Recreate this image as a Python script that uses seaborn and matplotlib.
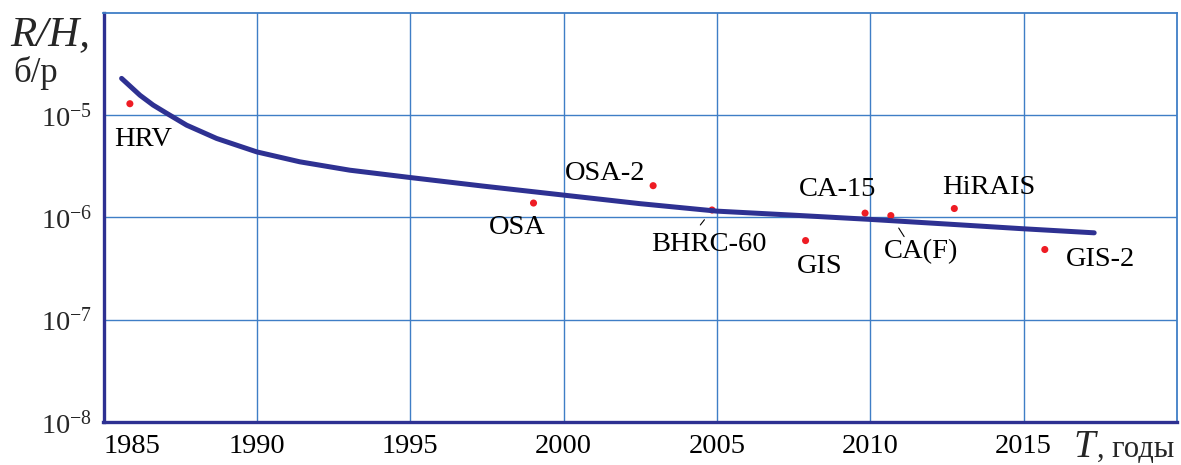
import numpy as np
import matplotlib
matplotlib.use('Agg')
import matplotlib.pyplot as plt
import seaborn as sns
from matplotlib.ticker import FixedLocator, LogLocator, NullFormatter, MultipleLocator

sns.set_theme(style='white')
plt.rcParams['font.family'] = ['Liberation Serif', 'DejaVu Serif']
plt.rcParams['mathtext.fontset'] = 'custom'
plt.rcParams['mathtext.rm'] = 'Liberation Serif'
plt.rcParams['mathtext.it'] = 'Liberation Serif:italic'

navy = '#2e3192'
gridc = '#3f7ec6'

# trend curve
curve_year = [1985.59, 1986.19, 1986.62, 1987.06, 1987.71, 1988.69, 1990.0, 1991.4, 1993.03,
              1995.0, 1997.38, 2000.0, 2002.5, 2005.0, 2007.5, 2010.0, 2012.5, 2015.0, 2017.3]
curve_rh = [2.28e-5, 1.56e-5, 1.25e-5, 1.04e-5, 7.96e-6, 5.90e-6, 4.36e-6, 3.49e-6, 2.89e-6,
            2.45e-6, 2.02e-6, 1.65e-6, 1.36e-6, 1.15e-6, 1.05e-6, 9.55e-7, 8.6e-7, 7.73e-7, 7.06e-7]

# individual machines
names = ['HRV', 'OSA', 'OSA-2', 'BHRC-60', 'GIS', 'CA-15', 'CA(F)', 'HiRAIS', 'GIS-2']
years = [1985.86, 1999.02, 2002.92, 2004.84, 2007.89, 2009.83, 2010.67, 2012.74, 2015.69]
rh = [1.29e-5, 1.38e-6, 2.04e-6, 1.18e-6, 5.93e-7, 1.10e-6, 1.04e-6, 1.22e-6, 4.85e-7]

# label offsets in pixels (baseline, centred)
offsets = {'HRV': (13, -42), 'OSA': (-16, -31), 'OSA-2': (-48, 6), 'BHRC-60': (-3, -41),
           'GIS': (14, -32), 'CA-15': (-28, 17), 'CA(F)': (30, -43), 'HiRAIS': (34, 15),
           'GIS-2': (56, -16)}

x_ticks = [1985, 1990, 1995, 2000, 2005, 2010, 2015]
y_ticks = [1e-8, 1e-7, 1e-6, 1e-5]
y_labels = [r'$10^{-8}$', r'$10^{-7}$', r'$10^{-6}$', r'$10^{-5}$']

fig = plt.figure(figsize=(11.81, 4.65), dpi=100)
ax = fig.add_axes([103.5 / 1181, 43 / 465, (1177 - 103.5) / 1181, (422 - 12.7) / 465])

sns.scatterplot(x=years, y=rh, ax=ax, color='#ee1c24', s=26, edgecolor='none', zorder=3)
sns.lineplot(x=curve_year, y=curve_rh, ax=ax, color=navy, lw=3.6, zorder=4)

ax.set_yscale('log')
ax.set_xlim(1985, 2020)
ax.set_ylim(1e-8, 1e-4)

ax.xaxis.set_major_locator(FixedLocator(x_ticks))
ax.xaxis.set_minor_locator(MultipleLocator(1))
ax.set_xticklabels([str(t) for t in x_ticks], fontsize=20.5)
ax.get_xticklabels()[0].set_ha('left')
ax.yaxis.set_major_locator(FixedLocator(y_ticks))
ax.yaxis.set_minor_locator(LogLocator(base=10, subs=np.arange(2, 10)))
ax.yaxis.set_minor_formatter(NullFormatter())
ax.set_yticklabels(y_labels, fontsize=20.5)

ax.grid(True, which='major', color=gridc, lw=1.0)
ax.tick_params(axis='x', which='major', length=0, pad=8.5, colors='black')
ax.tick_params(axis='x', which='minor', direction='in', length=3, width=1.2, color=navy)
ax.tick_params(axis='y', which='major', direction='out', length=5, width=1.0, color=gridc, pad=3)
ax.tick_params(axis='y', which='minor', direction='in', length=3, width=1.2, color=navy)

for s in ['left', 'bottom']:
    ax.spines[s].set_color(navy)
    ax.spines[s].set_linewidth(2.4)
for s in ['top', 'right']:
    ax.spines[s].set_color(gridc)
    ax.spines[s].set_linewidth(1.3)
ax.set_xlabel('')
ax.set_ylabel('')

for n, x, y in zip(names, years, rh):
    dx, dy = offsets[n]
    ax.annotate(n, (x, y), xytext=(dx, dy), textcoords='offset pixels',
                ha='center', va='baseline', fontsize=20.5, color='black', zorder=5)

# little leader strokes
leaders = {'BHRC-60': ((-11.7, -15), 8.9), 'CA(F)': ((13.3, -21), 10.6)}
for n, ((dx, dy), shr) in leaders.items():
    i = names.index(n)
    ax.annotate('', (years[i], rh[i]), xytext=(dx, dy), textcoords='offset pixels',
                arrowprops=dict(arrowstyle='-', color='black', lw=0.8, shrinkA=0, shrinkB=shr))

fig.text(10 / 1181, 1 - 45 / 465, 'R/H,', fontsize=31, style='italic', ha='left', va='baseline')
fig.text(13 / 1181, 1 - 82 / 465, 'б/р', fontsize=25, ha='left', va='baseline')
fig.text(1073 / 1181, 1 - 457 / 465, 'T', fontsize=28, style='italic', ha='left', va='baseline')
fig.text(1097 / 1181, 1 - 457 / 465, ', годы', fontsize=22, ha='left', va='baseline')

fig.savefig('out.png', dpi=100)
